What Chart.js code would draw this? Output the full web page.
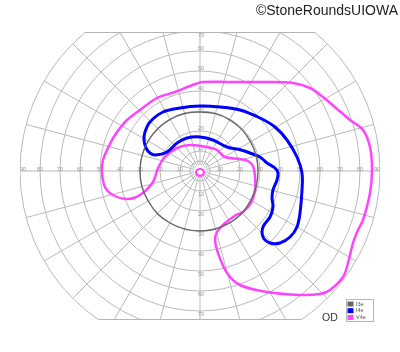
<!DOCTYPE html>
<html><head><meta charset="utf-8">
<script src="https://cdn.jsdelivr.net/npm/chart.js@4.4.1/dist/chart.umd.min.js"></script>
<style>html,body{margin:0;padding:0;background:#fff}#wrap{width:400px;height:352px;position:relative}</style>
</head><body><div id="wrap"><canvas id="c"></canvas></div>
<script>
// ---- data (visual field degrees: x = horizontal, y = vertical) ----
const isopterNames = ['I3e', 'I4e', 'V4e'];
const isopterColors = ['#666666', '#0000ff', '#ff44ff'];

const i3eX = [29, 25.3, 14.8, 0, -14.9, -25.9, -30, -25.9, -15, 0, 15, 25.3];
const i3eY = [0, 14.6, 25.6, 29.5, 25.8, 15, 0, -15, -26, -30, -25.8, -14.8];

const i4eX = [-27.5, -25, -18.5, -10, 0, 10, 20, 30, 37.5, 43.5, 48.5, 51, 51, 50, 48.5, 45, 40, 35, 31.5, 31.5, 35, 36.5, 36, 36.5, 38.5, 39, 37.5, 33.5, 30, 25, 20.5, 13.5, 6.5, 0, -6.5, -11.5, -16.5, -22.5, -25, -27, -28];
const i4eY = [19.5, 24.5, 29.5, 31.5, 32.5, 32, 30.5, 26.5, 22, 15.5, 7, -1, -9.5, -21, -28, -33, -36, -36, -33, -28, -23, -18, -13.5, -9.5, -4.5, -1, 1.5, 4, 7, 9, 10.5, 12, 15.5, 17, 16.5, 14, 9.5, 8, 9, 11.5, 15.5];

const v4eX = [-49, -48.5, -44, -40, -36.5, -30, -21.5, -12.5, -5, 1.5, 15, 33.5, 46.5, 55, 61.5, 68, 75, 81.5, 85, 86, 85, 81.5, 79, 76.5, 74, 71.5, 65, 60, 50, 33.5, 20, 13.5, 9, 7.5, 8.5, 12, 18, 21.5, 25.5, 27.5, 27.5, 26.5, 24, 20, 12.5, 8.5, 3.5, -5, -11.5, -17.5, -21, -23.5, -30, -36.5, -43.5, -47.5];
const v4eY = [-1, 5.5, 15.5, 21.5, 25.5, 30.5, 36.5, 39.5, 42.5, 44.5, 44.5, 44.5, 44, 41.5, 37, 31.5, 25.5, 20.5, 12, 0.5, -11, -24.5, -29.5, -36, -46, -53, -59.5, -61.5, -62, -60.5, -57, -51, -41, -34.5, -30.5, -26.5, -22, -20.5, -16, -9.5, -3, 2.5, 5, 6, 7, 10.5, 12, 13, 11.5, 7, 1.5, -5.5, -12, -14, -12, -8];

const v4eCenterX = [2, 1.4, 0, -1.4, -2, -1.4, 0, 1.4];
const v4eCenterY = [-0.7, 0.5, 1, 0.5, -0.7, -1.9, -2.4, -1.9];

const ringDegrees = [5, 10, 20, 30, 40, 50, 60, 70, 80, 90];
const ringLabels = [10, 20, 30, 40, 50, 60, 70, 80, 90];
const verticalLabels = [10, 20, 30, 40, 50, 60, 70];
const meridianAngles = [0, 15, 30, 45, 60, 75, 90, 105, 120, 135, 150, 165, 180, 195, 210, 225, 240, 255, 270, 285, 300, 315, 330, 345];
const eyeLabel = 'OD';
const creditText = '\u00A9StoneRoundsUIOWA';

function pts(xs, ys) { return xs.map((v, i) => ({ x: v, y: ys[i] })); }

// closes each isopter into a loop (like radar lines)
const loopPlugin = {
  id: 'loopLines',
  afterDatasetUpdate(chart, args) {
    const line = args.meta.dataset;
    if (line) { line._loop = true; line._fullLoop = true; }
  }
};

const gridPlugin = {
  id: 'perimetryGrid',
  beforeDatasetsDraw(chart) {
    const { ctx, chartArea: a, scales: { x, y } } = chart;
    const cx = x.getPixelForValue(0), cy = y.getPixelForValue(0);
    const k = x.getPixelForValue(1) - cx;
    const R = 90 * k;
    ctx.save();
    ctx.beginPath(); ctx.rect(a.left, a.top, a.right - a.left, a.bottom - a.top); ctx.clip();
    ctx.strokeStyle = '#b9b9b9'; ctx.lineWidth = 1;
    for (const r of ringDegrees) { ctx.beginPath(); ctx.arc(cx, cy, r * k, 0, Math.PI * 2); ctx.stroke(); }
    ctx.beginPath(); ctx.arc(cx, cy, R, 0, Math.PI * 2); ctx.clip();
    for (const ang of meridianAngles) {
      const t = ang * Math.PI / 180;
      ctx.beginPath();
      ctx.moveTo(cx + Math.cos(t) * 3 * k, cy - Math.sin(t) * 3 * k);
      ctx.lineTo(cx + Math.cos(t) * R, cy - Math.sin(t) * R);
      ctx.stroke();
    }
    ctx.strokeStyle = '#b5b5b5';
    ctx.beginPath(); ctx.moveTo(a.left, a.top + 0.5); ctx.lineTo(a.right, a.top + 0.5); ctx.stroke();
    ctx.beginPath(); ctx.moveTo(a.left, a.bottom - 0.5); ctx.lineTo(a.right, a.bottom - 0.5); ctx.stroke();
    ctx.restore();

    ctx.save();
    ctx.font = '5.5px Arial, "Liberation Sans", sans-serif';
    ctx.fillStyle = '#999';
    ctx.textAlign = 'center'; ctx.textBaseline = 'middle';
    for (const r of ringLabels) {
      const xr = Math.min(cx + r * k, a.right - 3);
      const xl = Math.max(cx - r * k, a.left + 3);
      ctx.fillText(String(r), xr, cy - 1.5);
      ctx.fillText(String(r), xl, cy - 1.5);
    }
    for (const r of verticalLabels) {
      const yt = Math.max(cy - r * k - 3, a.top + 3);
      const yb = Math.min(cy + r * k + 3, a.bottom - 5);
      ctx.fillText(String(r), cx + 1, yt);
      ctx.fillText(String(r), cx + 1, yb);
    }
    ctx.restore();
  },
  afterDraw(chart) {
    const { ctx, chartArea: a } = chart;
    ctx.save();
    // credit
    ctx.font = '14px Arial, "Liberation Sans", sans-serif';
    ctx.fillStyle = '#222';
    ctx.textAlign = 'right'; ctx.textBaseline = 'alphabetic';
    ctx.fillText(creditText, chart.width - 2, 15);
    // eye label
    ctx.font = '10.5px Arial, "Liberation Sans", sans-serif';
    ctx.fillStyle = '#333';
    ctx.textAlign = 'left';
    ctx.fillText(eyeLabel, a.right - 58, a.bottom + 1);
    // legend
    const lx = a.right - 34, ly = a.bottom - 21, lw = 27, lh = 22;
    ctx.fillStyle = '#fff';
    ctx.fillRect(lx, ly, lw, lh);
    ctx.strokeStyle = '#b5b5b5'; ctx.lineWidth = 1;
    ctx.strokeRect(lx + 0.5, ly + 0.5, lw, lh);
    ctx.font = '5.5px Arial, "Liberation Sans", sans-serif';
    ctx.textBaseline = 'middle';
    isopterNames.forEach((n, i) => {
      const yy = ly + 2.5 + i * 6.7;
      ctx.fillStyle = isopterColors[i];
      ctx.fillRect(lx + 1.5, yy, 6, 5);
      ctx.fillStyle = '#555';
      ctx.fillText(n, lx + 10, yy + 2.7);
    });
    ctx.restore();
  }
};

const common = { showLine: true, pointRadius: 0, pointHoverRadius: 0, fill: false, tension: 0.4 };

new Chart(document.getElementById('c'), {
  type: 'scatter',
  data: {
    datasets: [
      Object.assign({ label: isopterNames[0], data: pts(i3eX, i3eY), borderColor: isopterColors[0], borderWidth: 1.4 }, common),
      Object.assign({ label: isopterNames[1], data: pts(i4eX, i4eY), borderColor: isopterColors[1], borderWidth: 3 }, common, { tension: 0.35 }),
      Object.assign({ label: isopterNames[2], data: pts(v4eX, v4eY), borderColor: isopterColors[2], borderWidth: 2.5 }, common, { tension: 0.35 }),
      Object.assign({ label: isopterNames[2] + ' center', data: pts(v4eCenterX, v4eCenterY), borderColor: isopterColors[2], borderWidth: 2.2 }, common)
    ]
  },
  options: {
    responsive: true,
    maintainAspectRatio: false,
    animation: false,
    events: [],
    layout: { padding: { left: 20, right: 20, top: 32, bottom: 32 } },
    scales: {
      x: { type: 'linear', min: -90, max: 90, display: false },
      y: { type: 'linear', min: -74.5, max: 69.5, display: false }
    },
    plugins: { legend: { display: false }, tooltip: { enabled: false }, title: { display: false } }
  },
  plugins: [loopPlugin, gridPlugin]
});
</script>
</body></html>
